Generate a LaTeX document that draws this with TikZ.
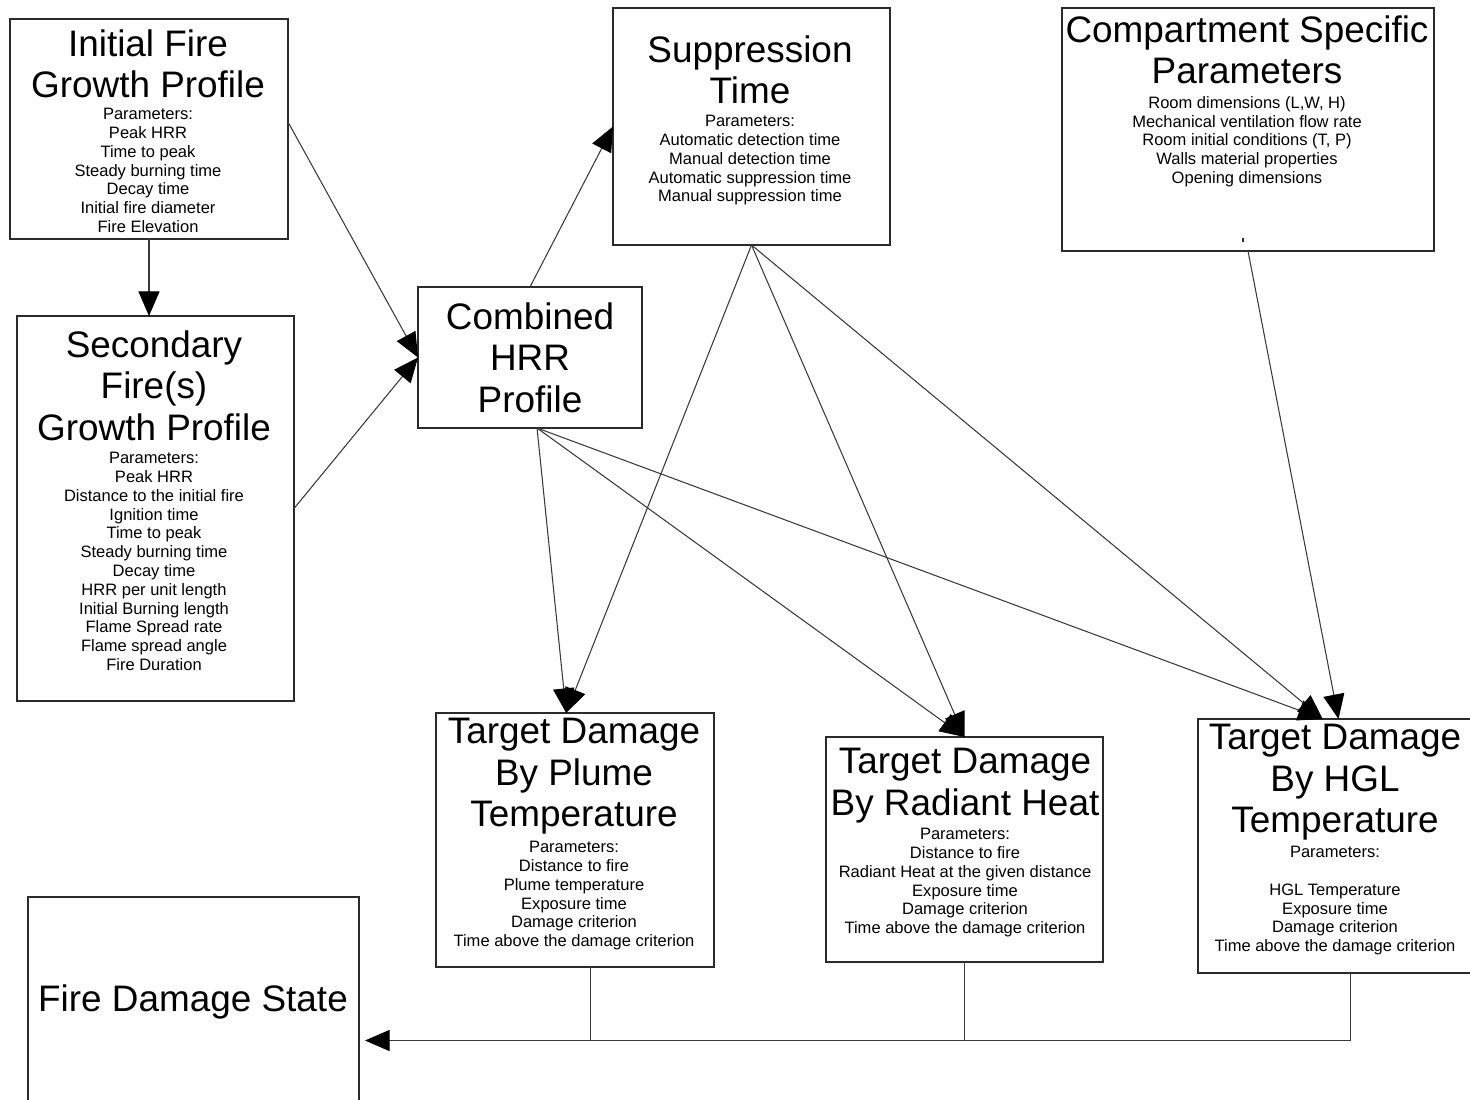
\documentclass[tikz,border=0pt]{standalone}
\usepackage{fontspec}
\setmainfont{Liberation Sans}
\usepackage{tikz}
\usetikzlibrary{arrows.meta,calc,positioning}
\definecolor{boxline}{HTML}{2B2B2B}
\definecolor{linkline}{HTML}{3A3A3A}
\newcommand{\pxu}{0.02cm}
\newcommand{\titlefont}{\fontsize{21}{23.6}\selectfont}
\newcommand{\paramfont}{\fontsize{9.4}{10.7}\selectfont}
\tikzset{
  block/.style 2 args={draw=boxline,line width=0.6pt,inner sep=0pt,outer sep=0pt,minimum width=#1*\pxu,minimum height=#2*\pxu},
  titletext/.style={anchor=north,align=center,inner sep=0pt,font=\titlefont},
  paramtext/.style={anchor=north,align=center,inner sep=0pt,font=\paramfont},
  link/.style={draw=linkline,line width=0.6pt},
  flow/.style={link,-{Triangle[length=14pt,width=12pt,color=black]}}
}

\begin{document}
\begin{tikzpicture}[x={(\pxu,0)},y={(0,-\pxu)}]
  \useasboundingbox[fill=white] (0,0) rectangle (1470,1099);
  \node[block={278}{220}] (ifg) at (149,129) {};
  \node[titletext] (ifgT) at (148,29) {Initial Fire\\Growth Profile};
  \node[paramtext] (ifgP) at (148,108) {Parameters:\\Peak HRR\\Time to peak\\Steady burning time\\Decay time\\Initial fire diameter\\Fire Elevation};
  \node[block={277}{385}] (sec) at (155.5,508.5) {};
  \node[titletext] (secT) at (154,330) {Secondary\\Fire(s)\\Growth Profile};
  \node[paramtext] (secP) at (154,452) {Parameters:\\Peak HRR\\Distance to the initial fire\\Ignition time\\Time to peak\\Steady burning time\\Decay time\\HRR per unit length\\Initial Burning length\\Flame Spread rate\\Flame spread angle\\Fire Duration};
  \node[block={224}{141}] (comb) at (530,357.5) {};
  \node[titletext] (combT) at (530,302) {Combined\\HRR\\Profile};
  \node[block={277}{237}] (supp) at (751.5,126.5) {};
  \node[titletext] (suppT) at (750,35) {Suppression\\Time};
  \node[paramtext] (suppP) at (750,115) {Parameters:\\Automatic detection time\\Manual detection time\\Automatic suppression time\\Manual suppression time};
  \node[block={372}{243}] (comp) at (1248,129.5) {};
  \node[titletext] (compT) at (1247,15) {Compartment Specific\\Parameters};
  \node[paramtext] (compP) at (1247,96) {Room dimensions (L,W, H)\\Mechanical ventilation flow rate\\Room initial conditions (T, P)\\Walls material properties\\Opening dimensions};
  \draw[boxline,line width=0.6pt] (1243,238) -- (1243,242);
  \node[block={278}{254}] (plume) at (575,840) {};
  \node[titletext] (plumeT) at (574,718) {Target Damage\\By Plume\\Temperature};
  \node[paramtext] (plumeP) at (574,841) {Parameters:\\Distance to fire\\Plume temperature\\Exposure time\\Damage criterion\\Time above the damage criterion};
  \node[block={277}{225}] (radiant) at (964.5,849.5) {};
  \node[titletext] (radiantT) at (965,748) {Target Damage\\By Radiant Heat};
  \node[paramtext] (radiantP) at (965,828) {Parameters:\\Distance to fire\\Radiant Heat at the given distance\\Exposure time\\Damage criterion\\Time above the damage criterion};
  \node[block={274}{254}] (hgl) at (1335,846) {};
  \node[titletext] (hglT) at (1335,724) {Target Damage\\By HGL\\Temperature};
  \node[paramtext] (hglP) at (1335,846) {Parameters:\\[10.7pt]HGL Temperature\\Exposure time\\Damage criterion\\Time above the damage criterion};
  \node[block={331}{205}] (fds) at (193.5,999.5) {};
  \node[titletext] (fdsT) at (193,984) {Fire Damage State};
  \coordinate (fdsin) at ($(fds.east)+(6,41)$);
  \draw[flow] (ifg.south) -- (ifg.south |- sec.north);
  \draw[flow] ([yshift=4pt]ifg.east) -- (comb.west);
  \draw[flow] (sec.east) -- (comb.west);
  \draw[flow] (comb.north) -- (supp.west);
  \draw[flow] ([xshift=4pt]comb.south) -- ([xshift=-5pt]plume.north);
  \draw[flow] ([xshift=4pt]comb.south) -- (radiant.north);
  \draw[flow] ([xshift=4pt]comb.south) -- ([xshift=-7pt]hgl.north);
  \draw[flow] (supp.south) -- ([xshift=-5pt]plume.north);
  \draw[flow] (supp.south) -- (radiant.north);
  \draw[flow] (supp.south) -- ([xshift=-7pt]hgl.north);
  \draw[flow] (comp.south) -- ([xshift=2pt]hgl.north);
  \draw[flow] ([xshift=9pt]hgl.south) |- (fdsin);
  \draw[link] ([xshift=9pt]plume.south) -- ([xshift=9pt]plume.south |- fdsin);
  \draw[link] (radiant.south) -- (radiant.south |- fdsin);
\end{tikzpicture}
\end{document}
